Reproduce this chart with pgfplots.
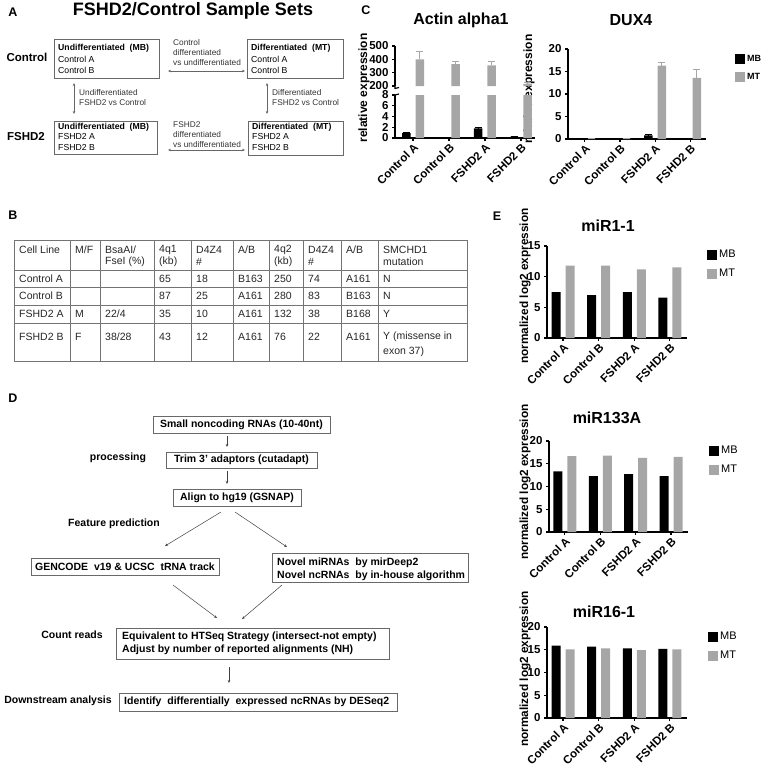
\documentclass[border=0pt]{standalone}
\usepackage{fontspec}
\setmainfont{Liberation Sans}
\usepackage{pgfplots}
\pgfplotsset{compat=1.18}
\usetikzlibrary{arrows.meta}
\definecolor{mtgray}{RGB}{166,166,166}
\definecolor{boxgray}{RGB}{105,105,105}
\newcommand\fsz[1]{\fontsize{#1}{#1}\selectfont}

\pgfplotsset{
  sq legend/.style={legend image code/.code={\path[##1] (0pt,-5pt) rectangle (10pt,5pt);}},
  gpbar/.style={
    scale only axis, anchor=south west, ybar=5pt, bar width=9pt,
    xmin=-0.45, xmax=3.48,
    xtick={0,1,2,3}, xticklabels={Control A,Control B,FSHD2 A,FSHD2 B},
    axis x line*=bottom, axis y line*=left,
    axis line style={line width=1.1pt},
    tick style={line width=1.1pt, black}, tick align=outside, major tick length=3pt,
    x tick label style={rotate=45, anchor=north east, inner sep=1pt},
    tick label style={font=\bfseries\fsz{11.5}},
    /pgf/number format/assume math mode=true,
    every axis plot post/.append style={sq legend},
    legend style={draw=none, fill=none, at={(1,1)}, anchor=north west,
      inner sep=0pt, row sep=6pt, font=\fsz{11}},
    legend cell align=left,
  },
  mb/.style={fill=black, draw=none},
  mt/.style={fill=mtgray, draw=none},
  ebar/.style={/pgfplots/error bars/y dir=plus, /pgfplots/error bars/y explicit,
    /pgfplots/error bars/error bar style={draw=#1, line width=1pt},
    /pgfplots/error bars/error mark options={draw=#1, line width=1pt, mark size=3.5pt, rotate=90}},
}

\begin{document}
\begin{tikzpicture}
\useasboundingbox (0pt,0pt) rectangle (760pt,-768pt);

\begin{scope}[x=1pt, y=-1pt]
% ---------------- A
\node[font=\bfseries\fsz{12.5}] at (13,12) {A};
\node[font=\bfseries\fsz{18}] at (193,11) {FSHD2/Control Sample Sets};
\node[font=\bfseries\fsz{11.5}] at (27,57) {Control};
\node[font=\bfseries\fsz{11.5}] at (26,137) {FSHD2};
\begin{scope}[draw=boxgray, line width=0.7pt]
\draw (54,39) rectangle (159,78);
\draw (247,39) rectangle (343,78);
\draw (54,121) rectangle (157,154);
\draw (248,121) rectangle (343,155);
\end{scope}
\begin{scope}[every node/.style={anchor=west, inner sep=0pt, font=\fsz{8.7}}]
\node[font=\bfseries\fsz{8.7}] at (58,48) {Undifferentiated\ \ (MB)};
\node at (58,59) {Control A};
\node at (58,70) {Control B};
\node[font=\bfseries\fsz{8.7}] at (251,48) {Differentiated\ \ (MT)};
\node at (251,59) {Control A};
\node at (251,70) {Control B};
\node[font=\bfseries\fsz{8.7}] at (58,127) {Undifferentiated\ \ (MB)};
\node at (58,137) {FSHD2 A};
\node at (58,148) {FSHD2 B};
\node[font=\bfseries\fsz{8.7}] at (252,127) {Differentiated\ \ (MT)};
\node at (252,137) {FSHD2 A};
\node at (252,148) {FSHD2 B};
\end{scope}
\begin{scope}[every node/.style={anchor=west, inner sep=0pt, font=\fsz{8.3}, text=black!80}]
\node at (173,43) {Control};
\node at (173,53) {differentiated};
\node at (173,63) {vs undifferentiated};
\node at (79,93) {Undifferentiated};
\node at (79,103) {FSHD2 vs Control};
\node at (272,93) {Differentiated};
\node at (272,103) {FSHD2 vs Control};
\node at (173,125) {FSHD2};
\node at (173,135) {differentiated};
\node at (173,145) {vs undifferentiated};
\end{scope}
\begin{scope}[draw=black!60, line width=0.4pt, {Stealth[length=3pt,width=2.5pt]}-{Stealth[length=3pt,width=2.5pt]}]
\draw (168,71) -- (245,71);
\draw (74,83) -- (74,114);
\draw (267,83) -- (267,114);
\draw (168,150) -- (245,150);
\end{scope}

% ---------------- B
\node[font=\bfseries\fsz{12.5}] at (13,215) {B};
\begin{scope}[draw=black!55, line width=0.7pt]
\draw (14,240) rectangle (467,361);
\foreach \yy in {270,287,305,323} \draw (14,\yy) -- (467,\yy);
\foreach \xx in {70,100,154,191,233,269,303,341,378} \draw (\xx,240) -- (\xx,361);
\end{scope}
\begin{scope}[every node/.style={anchor=west, inner sep=0pt, font=\fsz{10.5}, text=black!85}]
\node at (19,250) {Cell Line};
\node at (75,250) {M/F};
\node at (105,250) {BsaAI/};
\node at (105,262) {FseI (\%)};
\node at (159,250) {4q1};
\node at (159,262) {(kb)};
\node at (196,250) {D4Z4};
\node at (196,262) {\#};
\node at (238,250) {A/B};
\node at (274,250) {4q2};
\node at (274,262) {(kb)};
\node at (308,250) {D4Z4};
\node at (308,262) {\#};
\node at (346,250) {A/B};
\node at (383,250) {SMCHD1};
\node at (383,262) {mutation};
% rows
\node at (19,279) {Control A};
\node at (159,279) {65};
\node at (196,279) {18};
\node at (238,279) {B163};
\node at (274,279) {250};
\node at (308,279) {74};
\node at (346,279) {A161};
\node at (383,279) {N};
\node at (19,296) {Control B};
\node at (159,296) {87};
\node at (196,296) {25};
\node at (238,296) {A161};
\node at (274,296) {280};
\node at (308,296) {83};
\node at (346,296) {B163};
\node at (383,296) {N};
\node at (19,314) {FSHD2 A};
\node at (75,314) {M};
\node at (105,314) {22/4};
\node at (159,314) {35};
\node at (196,314) {10};
\node at (238,314) {A161};
\node at (274,314) {132};
\node at (308,314) {38};
\node at (346,314) {B168};
\node at (383,314) {Y};
\node at (19,337) {FSHD2 B};
\node at (75,337) {F};
\node at (105,337) {38/28};
\node at (159,337) {43};
\node at (196,337) {12};
\node at (238,337) {A161};
\node at (274,337) {76};
\node at (308,337) {22};
\node at (346,337) {A161};
\node at (383,337) {Y (missense in};
\node at (383,352) {exon 37)};
\end{scope}

% ---------------- D
\node[font=\bfseries\fsz{12.5}] at (13,398) {D};
\begin{scope}[draw=boxgray, line width=0.7pt]
\draw (153,416) rectangle (330,433);
\draw (166,452) rectangle (317,468);
\draw (173,489) rectangle (301,506);
\draw (31,558) rectangle (219,575);
\draw (272,553) rectangle (468,582);
\draw (116,628) rectangle (389,659);
\draw (119,693) rectangle (397,711);
\end{scope}
\begin{scope}[every node/.style={inner sep=0pt, font=\bfseries\fsz{10.5}}]
\node at (241.5,424.5) {Small noncoding RNAs (10-40nt)};
\node at (241.5,460) {Trim 3' adaptors (cutadapt)};
\node at (237,497.5) {Align to hg19 (GSNAP)};
\node at (125,566.5) {GENCODE\ \ v19 \& UCSC\ \ tRNA track};
\node[anchor=west] at (277,563) {Novel miRNAs\ \ by mirDeep2};
\node[anchor=west] at (277,576) {Novel ncRNAs\ \ by in-house algorithm};
\node[anchor=west] at (122,637) {Equivalent to HTSeq Strategy (intersect-not empty)};
\node[anchor=west] at (122,650) {Adjust by number of reported alignments (NH)};
\node[anchor=west] at (124,702) {Identify\ \ differentially\ \ expressed ncRNAs by DESeq2};
\node at (118,458) {processing};
\node at (114,524) {Feature prediction};
\node at (72,635) {Count reads};
\node at (58,701) {Downstream analysis};
\end{scope}
\begin{scope}[draw=black!75, line width=0.5pt, -{Stealth[length=3pt,width=2.5pt]}]
\draw (227,436) -- (227,447);
\draw (227,471) -- (227,484);
\draw (221,512) -- (165,546);
\draw (235,512) -- (287,547);
\draw (173,585) -- (217,618);
\draw (282,585) -- (242,619);
\draw (229,667) -- (229,683);
\end{scope}

% ---------------- C labels
\node[font=\bfseries\fsz{12.5}] at (366,10) {C};
\node[font=\bfseries\fsz{16}] at (461,20) {Actin alpha1};
\node[font=\bfseries\fsz{16}] at (631,20) {DUX4};
\node[font=\bfseries\fsz{12}, rotate=90] at (364,88) {relative expression};
\node[font=\bfseries\fsz{12}, rotate=90] at (529,89) {relative expression};
\draw[line width=1.1pt] (395,86) -- (395,88.5) -- (399,87.5);
\draw[line width=1.1pt] (395,95) -- (399,94);

% ---------------- E labels
\node[font=\bfseries\fsz{12.5}] at (497,216) {E};
\node[font=\bfseries\fsz{16}] at (608,226) {miR1-1};
\node[font=\bfseries\fsz{16}] at (607,418) {miR133A};
\node[font=\bfseries\fsz{16}] at (604,612) {miR16-1};
\node[font=\bfseries\fsz{11.8}, rotate=90] at (525,286) {normalized log2 expression};
\node[font=\bfseries\fsz{11.8}, rotate=90] at (525,482) {normalized log2 expression};
\node[font=\bfseries\fsz{11.8}, rotate=90] at (525,669) {normalized log2 expression};
\end{scope}

% ---------------- C: Actin alpha1, lower part
\begin{axis}[gpbar, at={(395pt,-138pt)}, width=140pt, height=43pt,
  xmin=-0.5, xmax=3.39, bar width=8.5pt,
  ymin=0, ymax=8, ytick={0,2,4,6,8}]
\addplot[mb, ebar=black] coordinates {(0,0.9) +- (0,0.12) (1,0.05) +- (0,0.02) (2,1.8) +- (0,0.12) (3,0.2) +- (0,0.05)};
\addplot[mt] coordinates {(0,400) (1,365) (2,355) (3,215)};
\end{axis}
% ---------------- C: Actin alpha1, upper part (MB bars lie below this range)
\begin{axis}[gpbar, at={(395pt,-86pt)}, width=140pt, height=40pt,
  xmin=-0.5, xmax=3.39, bar width=8.5pt, axis x line=none, xtick=\empty,
  ymin=200, ymax=500, ytick={200,300,400,500}]
\addplot[fill=none, draw=none] coordinates {(0,0.9) (1,0.05) (2,1.8) (3,0.2)};
\addplot[mt, ebar=mtgray] coordinates {(0,400) +- (0,55) (1,365) +- (0,18) (2,355) +- (0,25) (3,215) +- (0,13)};
\end{axis}
% ---------------- C: DUX4
\begin{axis}[gpbar, at={(568pt,-139pt)}, width=138pt, height=90pt,
  xmin=-0.48, xmax=3.45, bar width=8.5pt,
  ymin=0, ymax=20, ytick={0,5,10,15,20},
  legend style={xshift=29pt, yshift=-4pt, font=\bfseries\fsz{9}}]
\addplot[mb, ebar=black] coordinates {(0,0.03) +- (0,0) (1,0.03) +- (0,0) (2,0.8) +- (0,0.2) (3,0.05) +- (0,0)};
\addplot[mt, ebar=mtgray] coordinates {(0,0.05) +- (0,0) (1,0.05) +- (0,0) (2,16.3) +- (0,0.8) (3,13.6) +- (0,1.9)};
\legend{MB,MT}
\end{axis}

% ---------------- E: miR1-1
\begin{axis}[gpbar, at={(547pt,-338pt)}, width=140pt, height=92pt,
  ymin=0, ymax=15, ytick={0,5,10,15},
  legend style={xshift=20pt, yshift=-2pt}]
\addplot[mb] coordinates {(0,7.5) (1,7.0) (2,7.5) (3,6.6)};
\addplot[mt] coordinates {(0,11.8) (1,11.8) (2,11.2) (3,11.5)};
\legend{MB,MT}
\end{axis}
% ---------------- E: miR133A
\begin{axis}[gpbar, at={(549pt,-532pt)}, width=139pt, height=91pt,
  ymin=0, ymax=20, ytick={0,5,10,15,20},
  legend style={xshift=21pt, yshift=-3pt}]
\addplot[mb] coordinates {(0,13.3) (1,12.3) (2,12.7) (3,12.3)};
\addplot[mt] coordinates {(0,16.7) (1,16.8) (2,16.3) (3,16.5)};
\legend{MB,MT}
\end{axis}
% ---------------- E: miR16-1
\begin{axis}[gpbar, at={(547pt,-718pt)}, width=140pt, height=91pt,
  ymin=0, ymax=20, ytick={0,5,10,15,20},
  legend style={xshift=21pt, yshift=-3pt}]
\addplot[mb] coordinates {(0,15.9) (1,15.7) (2,15.3) (3,15.2)};
\addplot[mt] coordinates {(0,15.1) (1,15.3) (2,14.9) (3,15.1)};
\legend{MB,MT}
\end{axis}
\end{tikzpicture}
\end{document}
